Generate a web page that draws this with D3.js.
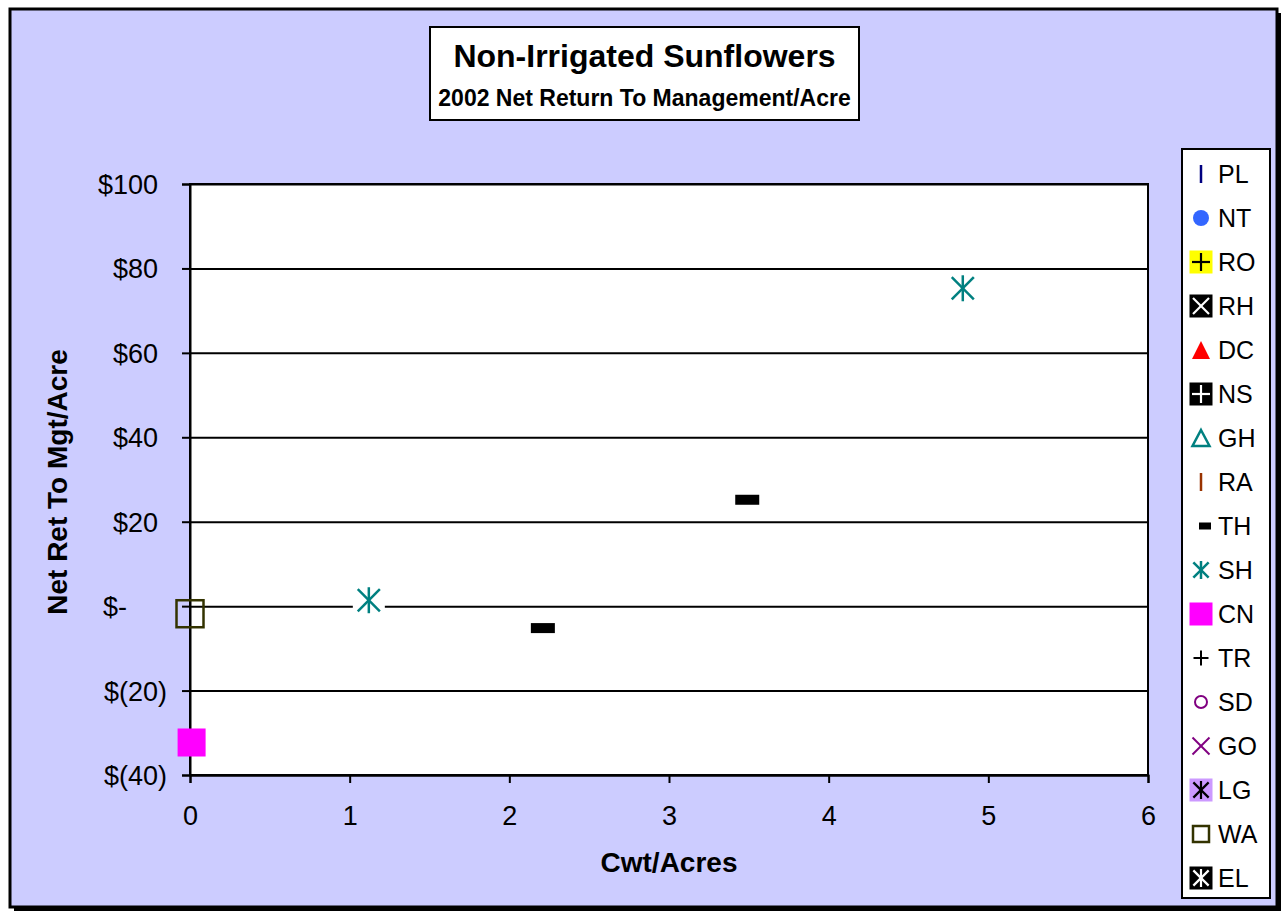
<!DOCTYPE html>
<html><head><meta charset="utf-8">
<script src="https://cdn.jsdelivr.net/npm/d3@7"></script>
<style>
body{margin:0;background:#fff}
svg{display:block}
text{font-family:"Liberation Sans",Arial,Helvetica,sans-serif;fill:#000}
</style>
</head><body>
<svg id="c" width="1284" height="914"></svg>
<script>
// ---- data ----
const seriesNames = ["PL","NT","RO","RH","DC","NS","GH","RA","TH","SH","CN","TR","SD","GO","LG","WA","EL"];
const thX = [2.21, 3.49], thY = [-5.2, 25.2];
const shX = [1.12, 4.84], shY = [1.4, 75.3];
const cnX = [0.01],       cnY = [-32.3];
const waX = [0],          waY = [-1.8];
const xTicks = [0,1,2,3,4,5,6];
const yTicks = [-40,-20,0,20,40,60,80,100];
const yTickLabels = ["$(40)","$(20)","$-","$20","$40","$60","$80","$100"];
const titleText = "Non-Irrigated Sunflowers";
const subtitleText = "2002 Net Return To Management/Acre";
const xTitle = "Cwt/Acres";
const yTitle = "Net Ret To Mgt/Acre";

// ---- styles ----
const styles = {
  PL:{shape:"vbar",color:"#000080"}, NT:{shape:"circle",color:"#3366FF"},
  RO:{shape:"boxplus",bg:"#FFFF00",fg:"#000"}, RH:{shape:"boxx",bg:"#000",fg:"#fff"},
  DC:{shape:"tri",color:"#FF0000"}, NS:{shape:"boxplus",bg:"#000",fg:"#fff"},
  GH:{shape:"trio",color:"#008080"}, RA:{shape:"vbar",color:"#993300"},
  TH:{shape:"dash",color:"#000"}, SH:{shape:"ast",color:"#008080"},
  CN:{shape:"box",color:"#FF00FF"}, TR:{shape:"plus",color:"#000"},
  SD:{shape:"circo",color:"#800080"}, GO:{shape:"x",color:"#800080"},
  LG:{shape:"boxast",bg:"#CC99FF",fg:"#000"}, WA:{shape:"boxo",color:"#333300"},
  EL:{shape:"boxast",bg:"#000",fg:"#fff"}
};
const seriesData = [
  {name:"TH", xs:thX, ys:thY},
  {name:"SH", xs:shX, ys:shY},
  {name:"CN", xs:cnX, ys:cnY},
  {name:"WA", xs:waX, ys:waY}
];

const svg = d3.select("#c");
// background + border with shadow
svg.append("rect").attr("x",0).attr("y",0).attr("width",1284).attr("height",914).attr("fill","#fff");
svg.append("rect").attr("x",14).attr("y",13).attr("width",1267).attr("height",898).attr("fill","#000");
svg.append("rect").attr("x",10).attr("y",9).attr("width",1267).attr("height",898)
  .attr("fill","#CCCCFF").attr("stroke","#000").attr("stroke-width",3);

const L=190, R=1148, T=184, B=775;
const x = d3.scaleLinear().domain([0,6]).range([L,R]);
const y = d3.scaleLinear().domain([-40,100]).range([B,T]);

// plot area
svg.append("rect").attr("x",L).attr("y",T).attr("width",R-L).attr("height",B-T)
  .attr("fill","#fff").attr("stroke","#000").attr("stroke-width",2);

// gridlines
const grid = svg.append("g").attr("transform",`translate(${L},0)`)
  .call(d3.axisLeft(y).tickValues(yTicks).tickSize(-(R-L)).tickFormat(""));
grid.select(".domain").remove();
grid.selectAll(".tick line").attr("stroke","#000").attr("stroke-width",2);

// y axis
const yAxis = svg.append("g").attr("transform",`translate(${L},0)`)
  .call(d3.axisLeft(y).tickValues(yTicks).tickSize(8).tickPadding(0)
    .tickFormat((d,i)=>yTickLabels[yTicks.indexOf(d)]));
yAxis.select(".domain").attr("stroke","#000").attr("stroke-width",2);
yAxis.selectAll(".tick line").attr("stroke","#000").attr("stroke-width",2);
yAxis.selectAll(".tick text")
  .attr("font-size",27).attr("fill","#000")
  .attr("font-family",'"Liberation Sans",Arial,sans-serif')
  .attr("x", d => d>0 ? -32 : (d===0 ? -63 : -23))
  .attr("dy","0.35em");

// x axis
const xAxis = svg.append("g").attr("transform",`translate(0,${B})`)
  .call(d3.axisBottom(x).tickValues(xTicks).tickSize(8).tickPadding(0).tickFormat(d3.format("d")));
xAxis.select(".domain").attr("stroke","#000").attr("stroke-width",2);
xAxis.selectAll(".tick line").attr("stroke","#000").attr("stroke-width",2);
xAxis.selectAll(".tick text").attr("font-size",27).attr("fill","#000")
  .attr("font-family",'"Liberation Sans",Arial,sans-serif')
  .attr("y",50).attr("dy",0);

// axis titles
svg.append("text").attr("x",(L+R)/2).attr("y",872).attr("text-anchor","middle")
  .attr("font-size",28).attr("font-weight","bold").text(xTitle);
svg.append("text").attr("transform","translate(67,482) rotate(-90)").attr("text-anchor","middle")
  .attr("font-size",28).attr("font-weight","bold").text(yTitle);

// title box
svg.append("rect").attr("x",430).attr("y",27).attr("width",429).attr("height",93)
  .attr("fill","#fff").attr("stroke","#000").attr("stroke-width",2);
svg.append("text").attr("x",644.5).attr("y",67).attr("text-anchor","middle")
  .attr("font-size",32).attr("font-weight","bold").text(titleText);
svg.append("text").attr("x",644.5).attr("y",106).attr("text-anchor","middle")
  .attr("font-size",23).attr("font-weight","bold").text(subtitleText);

// marker drawing
function astPath(g, a, color, w){
  g.append("line").attr("x1",0).attr("y1",-a).attr("x2",0).attr("y2",a).attr("stroke",color).attr("stroke-width",w);
  g.append("line").attr("x1",-a*0.85).attr("y1",-a*0.85).attr("x2",a*0.85).attr("y2",a*0.85).attr("stroke",color).attr("stroke-width",w);
  g.append("line").attr("x1",-a*0.85).attr("y1",a*0.85).attr("x2",a*0.85).attr("y2",-a*0.85).attr("stroke",color).attr("stroke-width",w);
}
function plusPath(g, a, color, w){
  g.append("line").attr("x1",0).attr("y1",-a).attr("x2",0).attr("y2",a).attr("stroke",color).attr("stroke-width",w);
  g.append("line").attr("x1",-a).attr("y1",0).attr("x2",a).attr("y2",0).attr("stroke",color).attr("stroke-width",w);
}
function xPath(g, a, color, w){
  g.append("line").attr("x1",-a).attr("y1",-a).attr("x2",a).attr("y2",a).attr("stroke",color).attr("stroke-width",w);
  g.append("line").attr("x1",-a).attr("y1",a).attr("x2",a).attr("y2",-a).attr("stroke",color).attr("stroke-width",w);
}
function drawMarker(g, st, legend){
  const box = legend ? 23 : 28;
  const h = box/2;
  switch(st.shape){
    case "vbar":
      g.append("line").attr("y1",-9).attr("y2",9).attr("stroke",st.color).attr("stroke-width",2.5); break;
    case "circle":
      g.append("circle").attr("r",8).attr("fill",st.color); break;
    case "circo":
      g.append("circle").attr("r",6).attr("fill","none").attr("stroke",st.color).attr("stroke-width",2); break;
    case "tri":
      g.append("path").attr("d","M0,-9L9,9L-9,9Z").attr("fill",st.color); break;
    case "trio":
      g.append("path").attr("d","M0,-8L8.5,8L-8.5,8Z").attr("fill","none").attr("stroke",st.color).attr("stroke-width",2.5); break;
    case "box":
      g.append("rect").attr("x",-h).attr("y",-h).attr("width",box).attr("height",box).attr("fill",st.color); break;
    case "boxo": {
      const b = legend ? 16 : 27;
      g.append("rect").attr("x",-b/2).attr("y",-b/2).attr("width",b).attr("height",b)
        .attr("fill","none").attr("stroke",st.color).attr("stroke-width",2.5); break; }
    case "boxplus":
      g.append("rect").attr("x",-h).attr("y",-h).attr("width",box).attr("height",box).attr("fill",st.bg);
      plusPath(g, 9, st.fg, 2.2); break;
    case "boxx":
      g.append("rect").attr("x",-h).attr("y",-h).attr("width",box).attr("height",box).attr("fill",st.bg);
      xPath(g, 8, st.fg, 2.2); break;
    case "boxast":
      g.append("rect").attr("x",-h).attr("y",-h).attr("width",box).attr("height",box).attr("fill",st.bg);
      astPath(g, 9, st.fg, 2.2); break;
    case "dash":
      if (legend) g.append("rect").attr("x",-2).attr("y",-3.5).attr("width",12).attr("height",7).attr("fill",st.color);
      else g.append("rect").attr("x",-12).attr("y",-5).attr("width",24).attr("height",10).attr("fill",st.color);
      break;
    case "ast":
      if (!legend) {
        g.append("rect").attr("x",-16).attr("y",-14).attr("width",32).attr("height",28).attr("fill","#fff");
        astPath(g, 13, st.color, 2.5);
      } else astPath(g, 9, st.color, 2.5);
      break;
    case "plus":
      plusPath(g, 7.5, st.color, 2); break;
    case "x":
      xPath(g, 8.5, st.color, 2); break;
  }
}

// data points
seriesData.forEach(s => {
  s.xs.forEach((xv,i) => {
    const g = svg.append("g").attr("transform",`translate(${x(xv)},${y(s.ys[i])})`);
    drawMarker(g, styles[s.name], false);
  });
});

// legend
svg.append("rect").attr("x",1182).attr("y",149).attr("width",88).attr("height",749)
  .attr("fill","#fff").attr("stroke","#000").attr("stroke-width",2);
seriesNames.forEach((n,i) => {
  const cy = 174 + 44*i;
  const g = svg.append("g").attr("transform",`translate(1201,${cy})`);
  drawMarker(g, styles[n], true);
  svg.append("text").attr("x",1218).attr("y",cy).attr("dy","0.36em")
    .attr("font-size",25).text(n);
});
</script>
</body></html>
